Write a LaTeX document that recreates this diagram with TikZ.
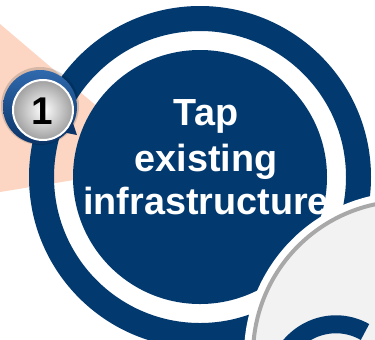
\documentclass[tikz,border=0pt]{standalone}
\usepackage{fontspec}
\setmainfont{Liberation Sans}
\usetikzlibrary{positioning, calc}
\definecolor{MyNavy}{HTML}{023A70}
\definecolor{MyPeach}{HTML}{FCD6C3}
\definecolor{MyFog}{HTML}{F2F2F2}
\definecolor{MyEdge}{HTML}{A8A8A8}
\definecolor{MyBadgeTop}{HTML}{2F69AD}
\definecolor{MyBadgeLow}{HTML}{0B3468}
\tikzset{
	headline/.style={text=white, font=\fontsize{21.5pt}{25pt}\selectfont\bfseries, anchor=base, inner sep=0pt},
	numeral/.style={text=black, font=\fontsize{22pt}{26pt}\selectfont\bfseries, anchor=base, inner sep=0pt},
}
\begin{document}
\begin{tikzpicture}[x=0.02cm, y=-0.02cm]
			\clip (0,0) rectangle (375,339);
			\fill[white] (0,0) rectangle (375,339);
			\coordinate (hub) at (200,177);
			\coordinate (lens) at (407,355);
			\coordinate (badge) at (40,107);
			\coordinate (ball) at (43,110);
			
			\fill[MyPeach] (0,24) -- (166,165) -- (0,192) -- cycle;
%			
			\fill[MyNavy, even odd rule] (hub) circle (171) (hub) circle (146);
			\fill[MyNavy] (hub) circle (127);
%			
			\fill[white] (lens) circle (163);
			\filldraw[fill=MyFog, draw=MyEdge, line width=0.08cm] (lens) circle (154);
			\draw[MyNavy, line width=0.36cm] (365,332) arc[start angle=62, end angle=200, x radius=1.24cm, y radius=1.32cm];
%			
			\node[headline] (tap) at (206,125) {Tap};
			\node[headline] (existing) at (206,171) {existing};
			\node[headline] (infra) at (206,214) {infrastructure};
%			
			\fill[black, opacity=0.15] ($(badge)+(0,-1)$) circle (39);
			\shade[top color=MyBadgeTop, bottom color=MyBadgeLow] (badge) circle (37);
			\fill[MyBadgeLow] (62,132) -- (77,135) -- (72,120) -- cycle;
			\shade[inner color=white, outer color=gray!75] (ball) circle (30);
			\draw[white, line width=0.04cm] (ball) circle (30);
			\node[numeral] (one) at (42,124) {1};
		\end{tikzpicture}
\end{document}
